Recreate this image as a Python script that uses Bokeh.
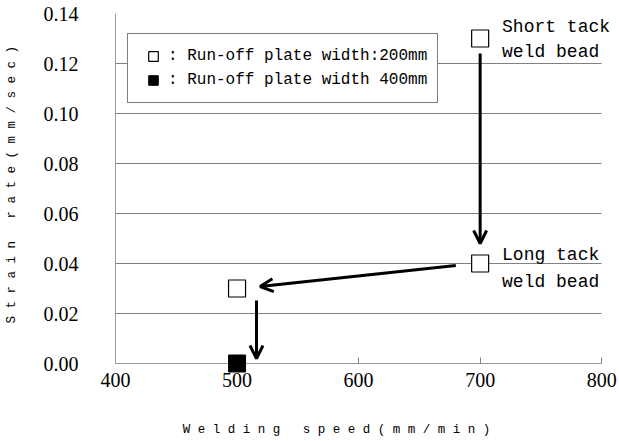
from bokeh.plotting import figure
from bokeh.models import (Arrow, OpenHead, Legend, LegendItem, FixedTicker,
                          NumeralTickFormatter, Range1d, Label)
from bokeh.embed import file_html
from bokeh.resources import INLINE

# ---- data ----
speed_200 = [700, 700, 500]
rate_200 = [0.13, 0.04, 0.03]
speed_400 = [500]
rate_400 = [0.00]
legend_labels = [": Run-off plate width:200mm", ": Run-off plate width 400mm"]
x_ticks = [400, 500, 600, 700, 800]
y_ticks = [0.00, 0.02, 0.04, 0.06, 0.08, 0.10, 0.12, 0.14]
NB = "\u00a0"
x_title = "W e l d i n g" + NB * 3 + "s p e e d ( m m / m i n )" + NB * 8
y_title = NB + "S t r a i n" + NB * 3 + "r a t e ( m m / s e c )"

# arrows: start -> end (data coordinates)
arrow_x0 = [700, 680, 516]
arrow_y0 = [0.124, 0.0392, 0.0252]
arrow_x1 = [700, 519, 516]
arrow_y1 = [0.048, 0.0308, 0.002]

annot_text = ["Short tack", "weld bead", "Long tack", "weld bead"]
annot_x = [718, 718, 718, 718]
annot_y = [0.1345, 0.1245, 0.0435, 0.0325]

SERIF = "Liberation Serif"
MONO = "Liberation Mono"

x_lo, x_hi = x_ticks[0], x_ticks[-1]
# frame extends a little right of the last tick so the side notes are not clipped
p = figure(width=619, height=441, output_backend="svg", toolbar_location=None,
           x_range=Range1d(x_lo, 813), y_range=Range1d(0, 0.14),
           min_border_left=115, min_border_right=2, min_border_top=13,
           min_border_bottom=78)
p.outline_line_color = None
p.background_fill_color = "white"

# grid
p.xgrid.visible = False
p.ygrid.ticker = FixedTicker(ticks=y_ticks)
p.ygrid.grid_line_color = "#808080"
p.ygrid.grid_line_width = 1
p.ygrid.cross_bounds = (x_lo, x_hi)

# axes
p.xaxis.ticker = FixedTicker(ticks=x_ticks)
p.xaxis.bounds = (x_lo, x_hi)
p.yaxis.ticker = FixedTicker(ticks=y_ticks)
p.yaxis.formatter = NumeralTickFormatter(format="0.00")
for ax in (p.xaxis[0], p.yaxis[0]):
    ax.axis_line_color = "#9a9a9a"
    ax.axis_line_width = 1
    ax.minor_tick_line_color = None
    ax.major_label_text_font = SERIF
    ax.major_label_text_font_size = "20px"
    ax.major_label_text_color = "black"
    ax.axis_label_text_font = MONO
    ax.axis_label_text_font_size = "12.5px"
    ax.axis_label_text_font_style = "normal"
    ax.axis_label_text_color = "black"
p.xaxis.major_tick_in = 6
p.xaxis.major_tick_out = 0
p.xaxis.major_tick_line_color = "#808080"
p.xaxis.major_label_standoff = 9
p.xaxis.axis_label = x_title
p.xaxis.axis_label_standoff = 33
p.yaxis.major_tick_in = 0
p.yaxis.major_tick_out = 0
p.yaxis.major_label_standoff = 37
p.yaxis.axis_label = y_title
p.yaxis.axis_label_standoff = 22

# arrows
for xs, ys, xe, ye in zip(arrow_x0, arrow_y0, arrow_x1, arrow_y1):
    p.add_layout(Arrow(end=OpenHead(size=13, line_width=3, line_color="black"),
                       x_start=xs, y_start=ys, x_end=xe, y_end=ye,
                       line_width=3, line_color="black"))

# markers
r_open = p.scatter(speed_200, rate_200, marker="square", size=17,
                   fill_color="white", line_color="black", line_width=1.2,
                   level="overlay")
r_fill = p.scatter(speed_400, rate_400, marker="square", size=17,
                   fill_color="black", line_color="black", line_width=1,
                   level="overlay")

# annotations
for t, x, y in zip(annot_text, annot_x, annot_y):
    p.add_layout(Label(x=x, y=y, text=t, text_font=MONO, text_font_size="18px",
                       text_align="left", text_baseline="middle",
                       text_color="black", level="overlay"))

# legend
legend = Legend(items=[LegendItem(label=legend_labels[0], renderers=[r_open]),
                       LegendItem(label=legend_labels[1], renderers=[r_fill])],
                location=(12, 260), orientation="vertical")
legend.glyph_width = 30
legend.glyph_height = 24
legend.label_height = 20
legend.spacing = 0
legend.padding = 10
legend.margin = 0
legend.label_standoff = 0
legend.label_text_font = MONO
legend.label_text_font_size = "16px"
legend.label_text_color = "black"
legend.border_line_color = "black"
legend.border_line_width = 1.5
legend.background_fill_color = "white"
legend.background_fill_alpha = 1
p.add_layout(legend)

open("out.html", "w").write(file_html(p, INLINE))
